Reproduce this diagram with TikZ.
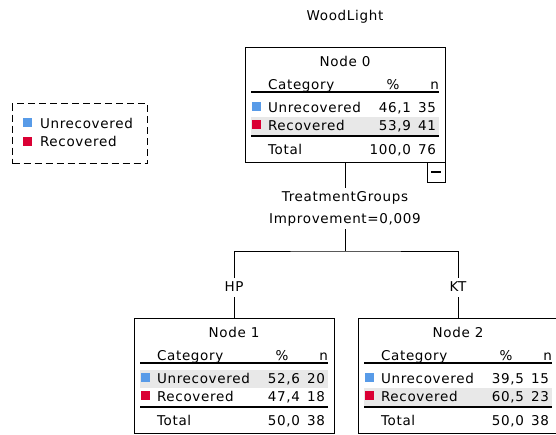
\documentclass[tikz,border=0pt]{standalone}
\usepackage{fontspec}
\setmainfont[LetterSpace=5]{DejaVu Sans}
\definecolor{cblue}{RGB}{88,155,232}
\definecolor{cred}{RGB}{218,0,52}
\definecolor{bandgrey}{RGB}{232,232,232}
\tikzset{
  txt/.style={inner sep=0pt, outer sep=0pt, font=\fontsize{13.5pt}{16pt}\selectfont},
  framebox/.style={draw, line width=1pt, inner sep=0pt, outer sep=0pt, minimum width=200pt, minimum height=115pt, anchor=north west},
  hrule/.style={line width=1.3pt},
  sq/.style={inner sep=0pt, outer sep=0pt, minimum size=9pt},
  conn/.style={line width=1pt},
  lab/.style={txt, inner xsep=0pt, inner ysep=3pt, text height=10pt, text depth=3pt},
  minusbox/.style={draw, line width=1pt, inner sep=0pt, outer sep=0pt, minimum width=18pt, minimum height=20pt, anchor=north east},
  legendbox/.style={draw, dash pattern=on 7pt off 4pt, line width=1pt, inner sep=0pt, minimum width=135pt, minimum height=60pt, anchor=north west}
}
% #1 name, #2 title, #3 u%, #4 un, #5 r%, #6 rn, #7 tot%, #8 totn, #9 band top
\newcommand\spsstable[9]{%
  \fill[bandgrey] (6,#9) rectangle (194,#9+18);
  \node[framebox] (#1) at (0,0) {};
  \node[txt, anchor=base] (#1title) at (100,19) {#2};
  \node[txt, anchor=base west] (#1cat) at (23,42) {Category};
  \node[txt, anchor=base] (#1pct) at (148,42) {\%};
  \node[txt, anchor=base east] (#1n) at (194,42) {n};
  \draw[hrule] (6,45) -- (194,45);
  \node[sq, fill=cblue] (#1sqa) at (11,59) {};
  \node[txt, anchor=base west] (#1la) at (23,65) {Unrecovered};
  \node[txt, anchor=base east] (#1pa) at (166,65) {#3};
  \node[txt, anchor=base east] (#1na) at (191,65) {#4};
  \node[sq, fill=cred] (#1sqb) at (11,77) {};
  \node[txt, anchor=base west] (#1lb) at (23,83) {Recovered};
  \node[txt, anchor=base east] (#1pb) at (166,83) {#5};
  \node[txt, anchor=base east] (#1nb) at (191,83) {#6};
  \draw[hrule] (6,89) -- (194,89);
  \node[txt, anchor=base west] (#1lt) at (23,107) {Total};
  \node[txt, anchor=base east] (#1pt) at (166,107) {#7};
  \node[txt, anchor=base east] (#1nt) at (191,107) {#8};
}
\begin{document}
\begin{tikzpicture}[x=1pt, y=-1pt]
\useasboundingbox (0,0) rectangle (556,434);
\fill[white] (0,0) rectangle (556,434);

\node[txt, anchor=base] (title) at (345,20) {WoodLight};

% legend
\node[legendbox] (legend) at (12,103) {};
\node[sq, fill=cblue] (lgsqa) at (27.5,122.5) {};
\node[txt, anchor=base west] (lga) at (40,128) {Unrecovered};
\node[sq, fill=cred] (lgsqb) at (27.5,141) {};
\node[txt, anchor=base west] (lgb) at (40,146.5) {Recovered};

\begin{scope}[shift={(245,47)}]
  \spsstable{n0}{Node 0}{46,1}{35}{53,9}{41}{100,0}{76}{70}
\end{scope}
\node[minusbox] (m0) at (n0.south east) {\rule{10pt}{1.2pt}};

\begin{scope}[shift={(134,318)}]
  \spsstable{n1}{Node 1}{52,6}{20}{47,4}{18}{50,0}{38}{52}
\end{scope}
\begin{scope}[shift={(358,318)}]
  \spsstable{n2}{Node 2}{39,5}{15}{60,5}{23}{50,0}{38}{70}
\end{scope}

% split labels
\node[lab, anchor=base] (tg) at (345,201) {TreatmentGroups};
\node[lab, anchor=base] (imp) at (345,223) {Improvement=0,009};
\coordinate (j) at (345,251);
\node[lab, anchor=base] (hp) at (234,291) {HP};
\node[lab, anchor=base] (kt) at (458,291) {KT};

\draw[conn] (n0.south) -- (tg.north);
\draw[conn] (imp.south) -- (j);
\draw[conn] (hp.north) |- (j) -| (kt.north);
\draw[conn] (hp.south) -- (n1.north);
\draw[conn] (kt.south) -- (n2.north);
\end{tikzpicture}
\end{document}
